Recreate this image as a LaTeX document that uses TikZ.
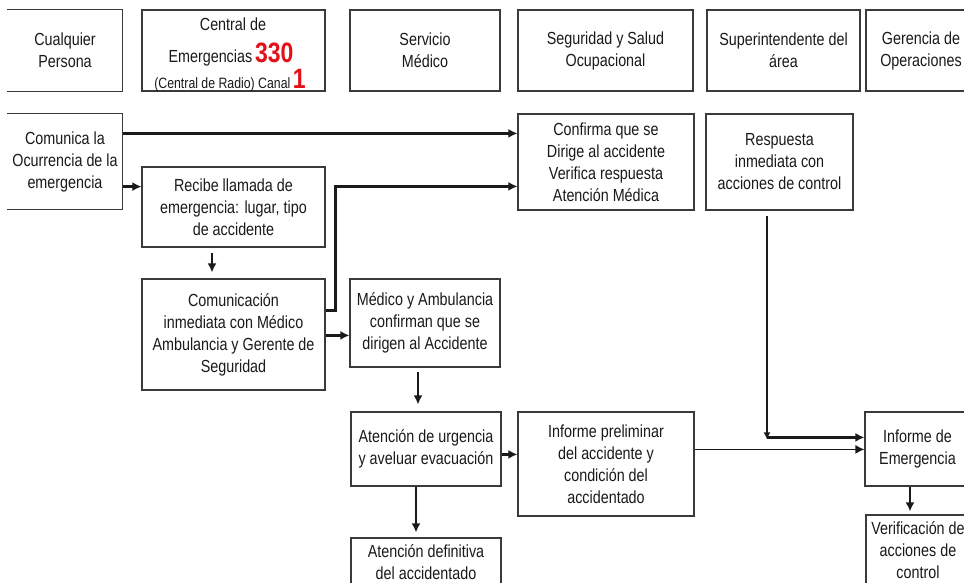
\documentclass[tikz,border=0pt]{standalone}
\usepackage{fontspec}
\setmainfont{Liberation Sans}
\newfontfamily\narrow[FakeStretch=0.82]{Liberation Sans}
\usetikzlibrary{arrows.meta}
\definecolor{inkc}{HTML}{1A1A1A}
\definecolor{edgec}{HTML}{3A3A3A}
\definecolor{redc}{HTML}{E3101A}
\tikzset{
  box/.style={draw=edgec, line width=1.2pt, align=center, inner sep=0pt,
    text=inkc, font=\narrow\fontsize{17.5}{22}\selectfont},
  openbox/.style={box, draw=none},
  side/.style={draw=edgec, line width=1.2pt},
  arr/.style={draw=inkc, line width=2.5pt, -{Latex[length=9pt,width=9pt]}},
  arrthin/.style={draw=inkc, line width=1.3pt, -{Latex[length=9pt,width=9pt]}},
  lbl/.style={inner sep=0pt, text=inkc, anchor=base, font=\narrow\fontsize{17.5}{22}\selectfont}
}
\newcommand{\bignum}[1]{{\color{redc}\narrow\bfseries\fontsize{28}{28}\selectfont #1}}
\begin{document}
\begin{tikzpicture}[x=1pt,y=-1pt]
\useasboundingbox[fill=white] (0,0) rectangle (964,582);

% --- column headers ---
\node[openbox, minimum width=114pt, minimum height=81pt] (cual) at (65,50.5) {Cualquier\\Persona};
\draw[side] (cual.north west) -- (cual.north east) -- (cual.south east) -- (cual.south west);
\node[box, minimum width=183pt, minimum height=81pt] (cent) at (233.5,50.5) {};
\node[lbl] (centa) at (233,30) {Central de};
\node[lbl] (centb) at (231,62) {Emergencias\,\bignum{330}};
\node[lbl] (centc) at (230,88) {\fontsize{15}{15}\selectfont(Central de Radio) Canal\,\bignum{1}};
\node[box, minimum width=150pt, minimum height=81pt] (serv) at (425,50.5) {Servicio\\Médico};
\node[box, minimum width=175pt, minimum height=81pt] (segu) at (605.5,50.5) {Seguridad y Salud\\Ocupacional};
\node[box, minimum width=153pt, minimum height=81pt] (supe) at (783.5,50.5) {Superintendente del\\área};
\node[box, minimum width=110pt, minimum height=81pt] (gere) at (921,50.5) {Gerencia de\\Operaciones};

% --- process steps ---
\node[openbox, minimum width=114pt, minimum height=95pt] (comu) at (65,161.5) {Comunica la\\Ocurrencia de la\\emergencia};
\draw[side] (comu.north west) -- (comu.north east) -- (comu.south east) -- (comu.south west);
\node[box, minimum width=176pt, minimum height=96pt] (conf) at (606,162) {Confirma que se\\Dirige al accidente\\Verifica respuesta\\Atención Médica};
\node[box, minimum width=147pt, minimum height=96pt] (resp) at (779.5,162) {Respuesta\\inmediata con\\acciones de control};
\node[box, minimum width=183pt, minimum height=80pt] (reci) at (233.5,207) {Recibe llamada de\\emergencia: lugar, tipo\\de accidente};
\node[box, minimum width=183pt, minimum height=111pt] (comn) at (233.5,334.5) {Comunicación\\inmediata con Médico\\Ambulancia y Gerente de\\Seguridad};
\node[box, minimum width=150pt, minimum height=88pt] (medi) at (425,323) {Médico y Ambulancia\\confirman que se\\dirigen al Accidente};
\node[box, minimum width=150pt, minimum height=74pt] (aten) at (426,449) {Atención de urgencia\\y aveluar evacuación};
\node[box, minimum width=176pt, minimum height=104pt] (prel) at (606,464) {Informe preliminar\\del accidente y\\condición del\\accidentado};
\node[box, minimum width=105pt, minimum height=74pt] (infe) at (917.5,449) {Informe de\\Emergencia};
\node[box, minimum width=104pt, minimum height=70pt] (veri) at (918,550) {Verificación de\\acciones de\\control};
\node[box, minimum width=150pt, minimum height=48pt] (defi) at (426,562) {Atención definitiva\\del accidentado};

% --- connectors ---
\draw[arr] ([yshift=-20pt]comu.north east) -- ([yshift=-20pt]conf.north west);
\coordinate (c1) at ([yshift=23pt]comu.south east);
\draw[arr] (c1) -- (c1 -| reci.west);
\coordinate (c2) at ([xshift=-21.5pt]reci.south);
\draw[arr] ([yshift=-5pt]c2) -- ([yshift=6pt]c2 |- comn.north);
\draw[arr] ([yshift=-32pt]comn.north east) -- ++(10,0) |- ([yshift=-73pt]conf.north west);
\draw[arr] ([yshift=-57pt]comn.north east) -- ([yshift=-57pt]medi.north west);
\coordinate (c3) at ([xshift=-7pt]medi.south);
\draw[arr] ([yshift=-4pt]c3) -- ([yshift=7pt]c3 |- aten.north);
\coordinate (c4) at ([yshift=-43pt]aten.north east);
\draw[arr] (c4) -- (c4 -| prel.west);
\coordinate (c5) at ([xshift=-10pt]aten.south);
\draw[arr] (c5) -- ([yshift=5pt]c5 |- defi.north);
\coordinate (c6) at ([yshift=-38pt]prel.north east);
\draw[arrthin] (c6) -- (c6 -| infe.west);
\coordinate (c7) at ([xshift=-12.5pt,yshift=-5pt]resp.south);
\coordinate (c8) at ([yshift=-26pt]infe.north west);
\draw[arr, line width=1.8pt, -{Latex[length=7pt,width=7pt]}] (c7) -- ([yshift=-2pt]c7 |- c8);
\draw[arr] (c7 |- c8) -- (c8);
\coordinate (c9) at ([xshift=-7.5pt]infe.south);
\draw[arr] (c9) -- ([yshift=3pt]c9 |- veri.north);
\end{tikzpicture}
\end{document}
